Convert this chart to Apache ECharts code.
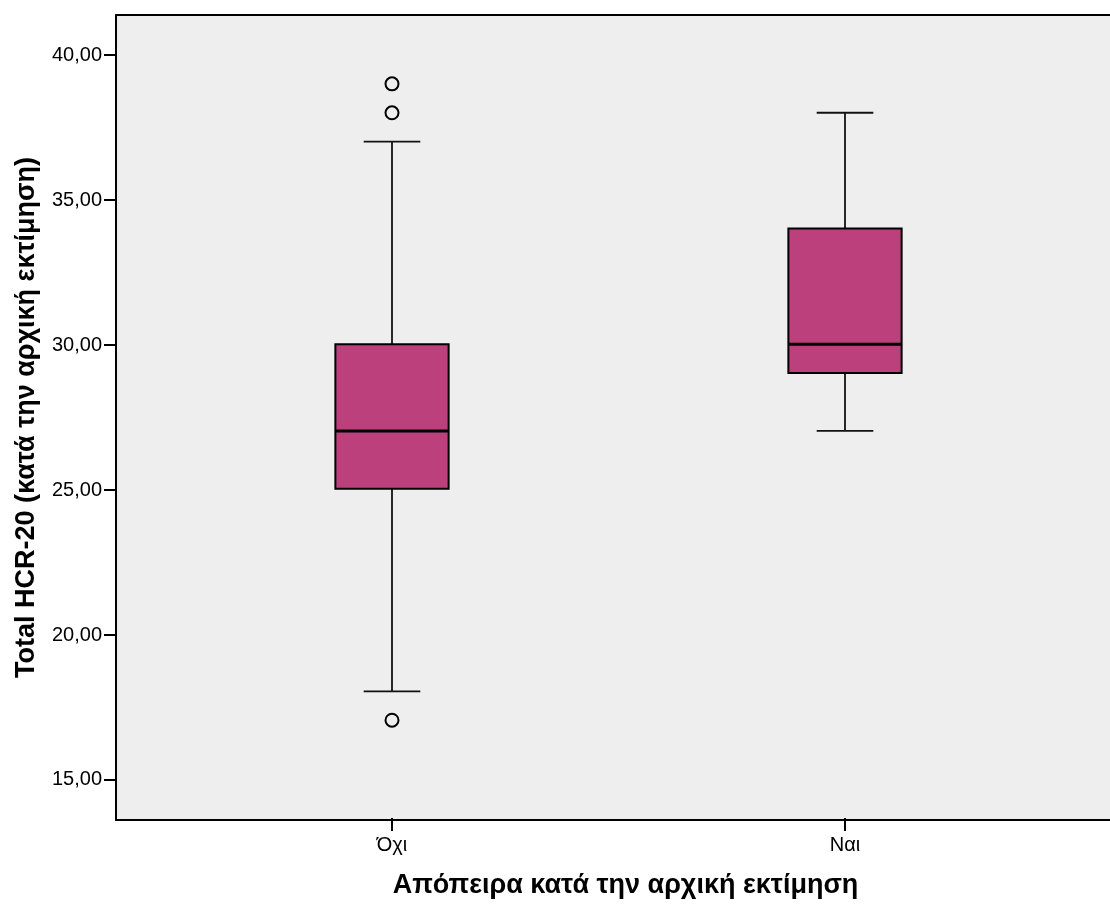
<!DOCTYPE html>
<html>
<head>
<meta charset="utf-8">
<script src="https://cdn.jsdelivr.net/npm/echarts@6/dist/echarts.min.js"></script>
<style>
  html, body { margin: 0; padding: 0; background: #ffffff; }
  #chart { width: 1110px; height: 904px; }
</style>
</head>
<body>
<div id="chart"></div>
<script>
// Groups on the horizontal axis
const categories = ['Όχι', 'Ναι'];
// Box statistics per group: [lower whisker, Q1, median, Q3, upper whisker]
const boxStats = [
  [18, 25, 27, 30, 37],
  [27, 29, 30, 34, 38]
];
// Outlying cases: [group, value]
const outliers = [
  ['Όχι', 39],
  ['Όχι', 38],
  ['Όχι', 17]
];
// Values labelled on the vertical axis
const yTicks = [15, 20, 25, 30, 35, 40];
const yMin = 13.62;
const yMax = 41.38;

const xTitle = 'Απόπειρα κατά την αρχική εκτίμηση';
const yTitle = 'Total HCR-20 (κατά την αρχική εκτίμηση)';

const FONT = '"Liberation Sans", Arial, sans-serif';
const BOX_FILL = '#BB407C';

const chart = echarts.init(document.getElementById('chart'), null, { renderer: 'canvas' });

const boxData = boxStats.map((s, i) => [i].concat(s));

// Draws one box: whiskers with short caps, the filled box and a heavy median line
function renderBox(params, api) {
  const x = api.value(0);
  const low = api.coord([x, api.value(1)]);
  const q1 = api.coord([x, api.value(2)]);
  const med = api.coord([x, api.value(3)]);
  const q3 = api.coord([x, api.value(4)]);
  const high = api.coord([x, api.value(5)]);
  const band = api.size([1, 0])[0];
  const w = band * 0.25;
  const cap = w / 2;
  const cx = low[0];
  const lineStyle = { stroke: '#111', lineWidth: 1.8 };
  return {
    type: 'group',
    children: [
      { type: 'line', shape: { x1: cx, y1: high[1], x2: cx, y2: q3[1] }, style: lineStyle },
      { type: 'line', shape: { x1: cx, y1: q1[1], x2: cx, y2: low[1] }, style: lineStyle },
      { type: 'line', shape: { x1: cx - cap / 2, y1: high[1], x2: cx + cap / 2, y2: high[1] }, style: lineStyle },
      { type: 'line', shape: { x1: cx - cap / 2, y1: low[1], x2: cx + cap / 2, y2: low[1] }, style: lineStyle },
      {
        type: 'rect',
        shape: { x: cx - w / 2, y: q3[1], width: w, height: q1[1] - q3[1] },
        style: { fill: BOX_FILL, stroke: '#000', lineWidth: 2 }
      },
      { type: 'line', shape: { x1: cx - w / 2, y1: med[1], x2: cx + w / 2, y2: med[1] }, style: { stroke: '#000', lineWidth: 3 } }
    ]
  };
}

const option = {
  backgroundColor: '#ffffff',
  animation: false,
  grid: [
    { left: 116, right: 0, top: 15, bottom: 84, show: true, backgroundColor: '#EEEEEE', borderWidth: 0 },
    { left: 165.5, right: 38.5, top: 15, bottom: 84 }
  ],
  xAxis: [
    {
      gridIndex: 0, type: 'value', position: 'bottom', min: 0, max: 1,
      axisLine: { show: true, lineStyle: { color: '#000', width: 2 } },
      axisTick: { show: false }, axisLabel: { show: false }, splitLine: { show: false }
    },
    {
      gridIndex: 0, type: 'value', position: 'top', min: 0, max: 1,
      axisLine: { show: true, lineStyle: { color: '#000', width: 2 } },
      axisTick: { show: false }, axisLabel: { show: false }, splitLine: { show: false }
    },
    {
      gridIndex: 1, type: 'category', data: categories, position: 'bottom',
      boundaryGap: true,
      axisLine: { show: false },
      axisTick: { show: true, alignWithLabel: true, length: 13, lineStyle: { color: '#000', width: 2 } },
      axisLabel: { color: '#000', fontFamily: FONT, fontSize: 20, margin: 17 },
      name: xTitle, nameLocation: 'middle', nameGap: 54,
      nameTextStyle: { color: '#000', fontFamily: FONT, fontSize: 27, fontWeight: 'bold', padding: [0, 0, 0, 14] },
      splitLine: { show: false }
    }
  ],
  yAxis: [
    {
      gridIndex: 0, type: 'value', min: yMin, max: yMax,
      axisLine: { show: true, lineStyle: { color: '#000', width: 2 } },
      axisTick: { show: true, length: 12, customValues: yTicks, lineStyle: { color: '#000', width: 2 } },
      axisLabel: {
        color: '#000', fontFamily: FONT, fontSize: 20, margin: 14,
        customValues: yTicks,
        formatter: v => v.toFixed(2).replace('.', ',')
      },
      splitLine: { show: false },
      name: yTitle, nameLocation: 'middle', nameGap: 76, nameRotate: 90,
      nameTextStyle: { color: '#000', fontFamily: FONT, fontSize: 27, fontWeight: 'bold' }
    },
    {
      gridIndex: 1, type: 'value', min: yMin, max: yMax, show: false,
      splitLine: { show: false }
    }
  ],
  series: [
    {
      type: 'custom',
      xAxisIndex: 2, yAxisIndex: 1,
      renderItem: renderBox,
      data: boxData,
      encode: { x: 0, y: [1, 2, 3, 4, 5] },
      z: 3
    },
    {
      type: 'scatter',
      xAxisIndex: 2, yAxisIndex: 1,
      data: outliers,
      symbol: 'circle', symbolSize: 13,
      itemStyle: { color: '#EEEEEE', borderColor: '#000', borderWidth: 2, opacity: 1 },
      z: 4
    }
  ]
};

chart.setOption(option);
</script>
</body>
</html>
